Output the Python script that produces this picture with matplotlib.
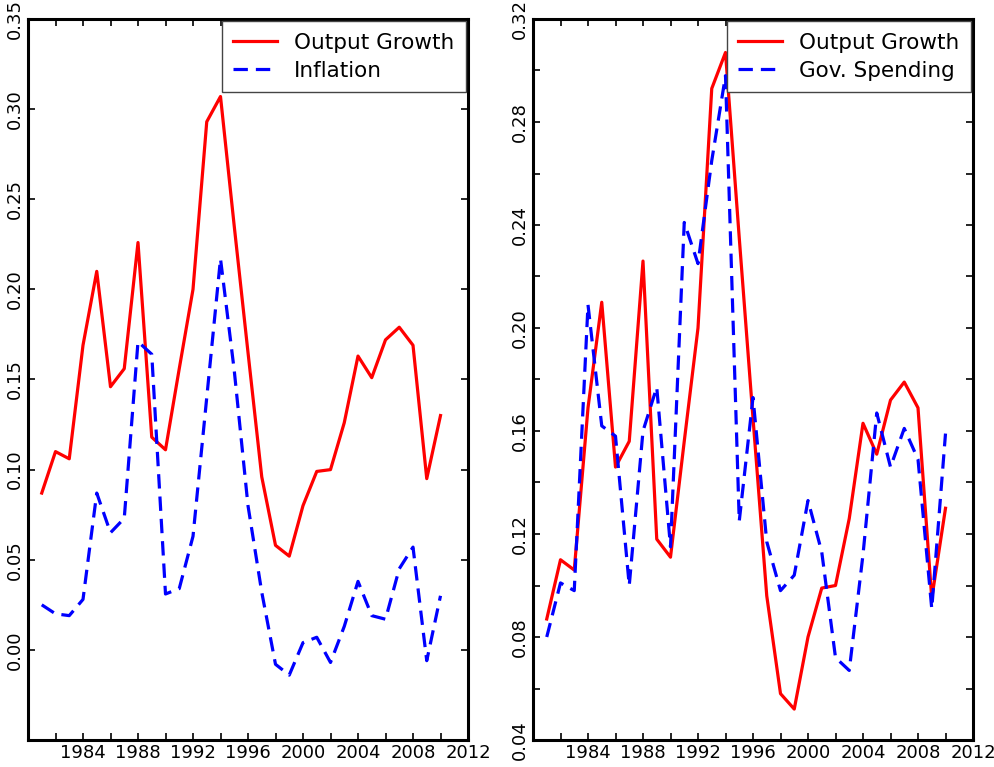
import matplotlib
matplotlib.use('Agg')
import matplotlib.pyplot as plt
import numpy as np

# Annual data, 1981-2010
years = np.arange(1981, 2011)

output_growth = [0.087, 0.110, 0.106, 0.169, 0.210, 0.146, 0.156, 0.226, 0.118, 0.111,
                 0.156, 0.200, 0.293, 0.307, 0.235, 0.165, 0.096, 0.058, 0.052, 0.080,
                 0.099, 0.100, 0.126, 0.163, 0.151, 0.172, 0.179, 0.169, 0.095, 0.130]

inflation = [0.025, 0.020, 0.019, 0.028, 0.087, 0.065, 0.073, 0.171, 0.164, 0.031,
             0.034, 0.063, 0.140, 0.217, 0.155, 0.080, 0.032, -0.008, -0.014, 0.004,
             0.007, -0.007, 0.013, 0.038, 0.019, 0.017, 0.045, 0.057, -0.006, 0.030]

gov_spending = [0.080, 0.101, 0.098, 0.209, 0.162, 0.158, 0.100, 0.160, 0.177, 0.115,
                0.241, 0.225, 0.265, 0.298, 0.125, 0.173, 0.117, 0.098, 0.104, 0.133,
                0.113, 0.072, 0.067, 0.112, 0.167, 0.146, 0.161, 0.149, 0.091, 0.159]

x_major = [1984, 1988, 1992, 1996, 2000, 2004, 2008, 2012]
x_minor = [1982, 1986, 1990, 1994, 1998, 2002, 2006, 2010]

plt.rcParams['font.family'] = 'DejaVu Sans'

fig = plt.figure(figsize=(9.95, 7.67), dpi=100)
ax1 = fig.add_axes([28 / 995, 27 / 767, 440 / 995, 721 / 767])
ax2 = fig.add_axes([533 / 995, 27 / 767, 440 / 995, 721 / 767])


def style_axes(ax, ylim, yticks, yminor, fmt):
    ax.set_xlim(1980, 2012)
    ax.set_ylim(*ylim)
    ax.set_xticks(x_major)
    ax.set_xticks(x_minor, minor=True)
    ax.set_yticks(yticks)
    ax.set_yticks(yminor, minor=True)
    ax.set_yticklabels([fmt % v for v in yticks], rotation=90, va='center')
    ax.tick_params(which='both', direction='in', top=True, right=True,
                   length=5, width=1.2, labelsize=13, pad=3)
    for s in ax.spines.values():
        s.set_linewidth(2.2)


# left panel
ax1.plot(years, output_growth, color='red', lw=2.3, label='Output Growth')
ax1.plot(years, inflation, color='blue', lw=2.3, dashes=(4.5, 2.5), label='Inflation')
style_axes(ax1, (-0.05, 0.35), np.arange(0.0, 0.351, 0.05), [], '%.2f')

# right panel
ax2.plot(years, output_growth, color='red', lw=2.3, label='Output Growth')
ax2.plot(years, gov_spending, color='blue', lw=2.3, dashes=(4.5, 2.5), label='Gov. Spending')
style_axes(ax2, (0.04, 0.32), np.arange(0.04, 0.321, 0.04),
           np.arange(0.06, 0.31, 0.04), '%.2f')

for ax in (ax1, ax2):
    leg = ax.legend(loc='upper right', fontsize=15.5, fancybox=False,
                    borderaxespad=0.1, handlelength=2.0, handletextpad=0.8,
                    borderpad=0.55, labelspacing=0.35)
    leg.get_frame().set_edgecolor('#444444')
    leg.get_frame().set_linewidth(1.0)
    leg.get_frame().set_alpha(1)

fig.savefig('out.png', dpi=100)
